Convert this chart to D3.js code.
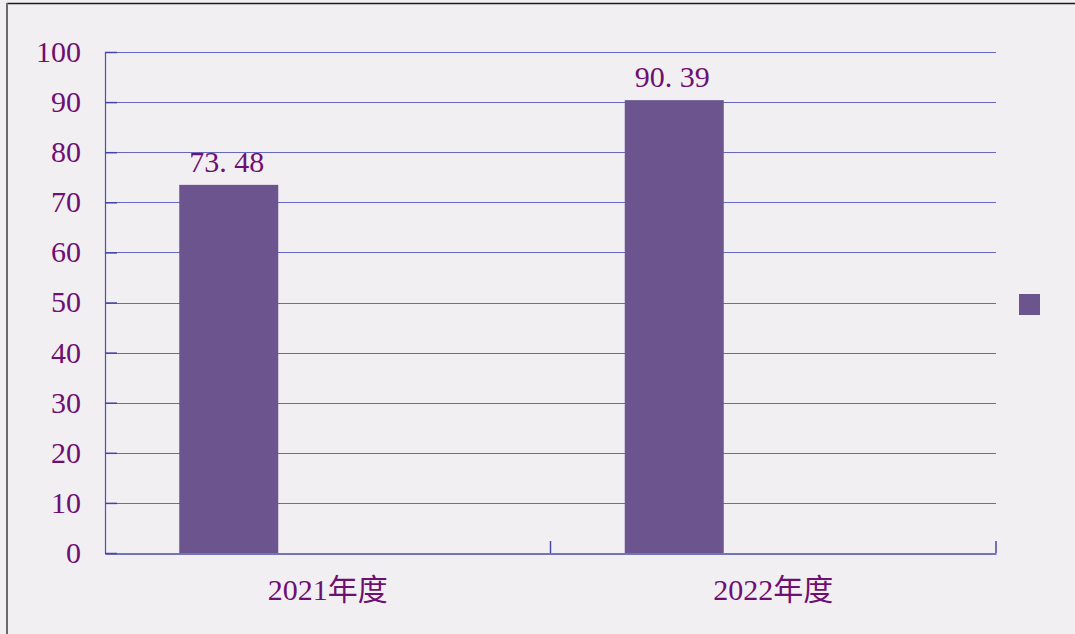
<!DOCTYPE html>
<html lang="zh">
<head>
    <meta charset="UTF-8">
    <title>年度对比</title>
    <script src="https://d3js.org/d3.v7.min.js"></script>
    <style>
        body {
            margin: 0;
            background: #f2eff3;
        }
        svg text {
            font-family: "Liberation Serif", "Noto Sans CJK SC", serif;
            fill: #6e0f72;
        }
    </style>
</head>
<body>
    <svg id="chart" width="1075" height="634"></svg>

    <script>
        // chart data
        const categories = ["2021年度", "2022年度"];
        const series = ["s1", "s2", "s3"];          // only the first has values, like the original
        const seriesValues = [73.48, 90.39];
        const valueLabels = ["73. 48", "90. 39"];
        const yTicks = [0, 10, 20, 30, 40, 50, 60, 70, 80, 90, 100];

        const width = 1075, height = 634;
        const margin = { top: 52, right: 79, bottom: 81, left: 105 };
        const svg = d3.select("#chart");

        // frame (top + left edge only visible)
        svg.append("rect")
            .attr("width", width).attr("height", height)
            .attr("fill", "#f2eff3");
        svg.append("line")
            .attr("x1", 7).attr("x2", width).attr("y1", 3.5).attr("y2", 3.5)
            .attr("stroke", "#1a1a1a").attr("stroke-width", 1.5);
        svg.append("line")
            .attr("x1", 7).attr("x2", 7).attr("y1", 3).attr("y2", height)
            .attr("stroke", "#6a6a6a").attr("stroke-width", 2);

        const x = d3.scaleBand()
            .domain(categories)
            .range([margin.left, width - margin.right]);

        // 3 slots per category, gap width 150%
        const xInner = d3.scaleBand()
            .domain(series)
            .range([0, x.bandwidth()])
            .paddingOuter(0.75);

        const y = d3.scaleLinear()
            .domain([0, 100])
            .range([height - margin.bottom, margin.top]);

        // grid lines
        svg.append("g")
            .selectAll("line")
            .data(yTicks.filter(d => d > 0))
            .join("line")
            .attr("x1", margin.left)
            .attr("x2", width - margin.right)
            .attr("y1", d => Math.round(y(d)) + 0.5)
            .attr("y2", d => Math.round(y(d)) + 0.5)
            .attr("stroke", "#6767be")
            .attr("stroke-width", 1.2);

        // bars
        svg.append("g")
            .selectAll("rect")
            .data(seriesValues)
            .join("rect")
            .attr("x", (d, i) => x(categories[i]) + xInner("s1"))
            .attr("width", xInner.bandwidth())
            .attr("y", d => y(d))
            .attr("height", d => y(0) - y(d))
            .attr("fill", "#6c558e");

        // value labels
        svg.append("g")
            .selectAll("text")
            .data(seriesValues)
            .join("text")
            .attr("x", (d, i) => x(categories[i]) + xInner("s1") + xInner.bandwidth() / 2 - 2)
            .attr("y", d => y(d) - 13)
            .attr("text-anchor", "middle")
            .style("font-size", "30px")
            .text((d, i) => valueLabels[i]);

        // y axis (inside ticks)
        const yAxis = svg.append("g")
            .attr("transform", `translate(${margin.left},0)`)
            .call(d3.axisRight(y).tickValues(yTicks).tickSize(12).tickFormat(""));
        yAxis.select(".domain").attr("stroke", "#5050b0").attr("stroke-width", 1.2);
        yAxis.selectAll(".tick line").attr("stroke", "#4444a8").attr("stroke-width", 1.5);

        svg.append("g")
            .selectAll("text")
            .data(yTicks)
            .join("text")
            .attr("x", 81)
            .attr("y", d => y(d))
            .attr("dy", "0.33em")
            .attr("text-anchor", "end")
            .style("font-size", "30px")
            .text(d => d);

        // x axis (ticks point up)
        const xAxis = svg.append("g")
            .attr("transform", `translate(0,${height - margin.bottom + 0.5})`)
            .call(d3.axisTop(x).tickSize(0).tickFormat(""));
        xAxis.select(".domain").attr("stroke", "#4848a8").attr("stroke-width", 1.5);

        svg.append("g")
            .selectAll("line")
            .data(categories)
            .join("line")
            .attr("x1", d => x(d) + x.bandwidth())
            .attr("x2", d => x(d) + x.bandwidth())
            .attr("y1", y(0) - 12)
            .attr("y2", y(0))
            .attr("stroke", "#4848a8")
            .attr("stroke-width", 1.5);

        svg.append("g")
            .selectAll("text")
            .data(categories)
            .join("text")
            .attr("x", d => x(d) + x.bandwidth() / 2)
            .attr("y", 600)
            .attr("text-anchor", "middle")
            .style("font-size", "30px")
            .text(d => d);

        // legend (single unlabeled entry)
        svg.append("rect")
            .attr("x", 1019).attr("y", 294)
            .attr("width", 21).attr("height", 21)
            .attr("fill", "#6c558e");
    </script>
</body>
</html>
